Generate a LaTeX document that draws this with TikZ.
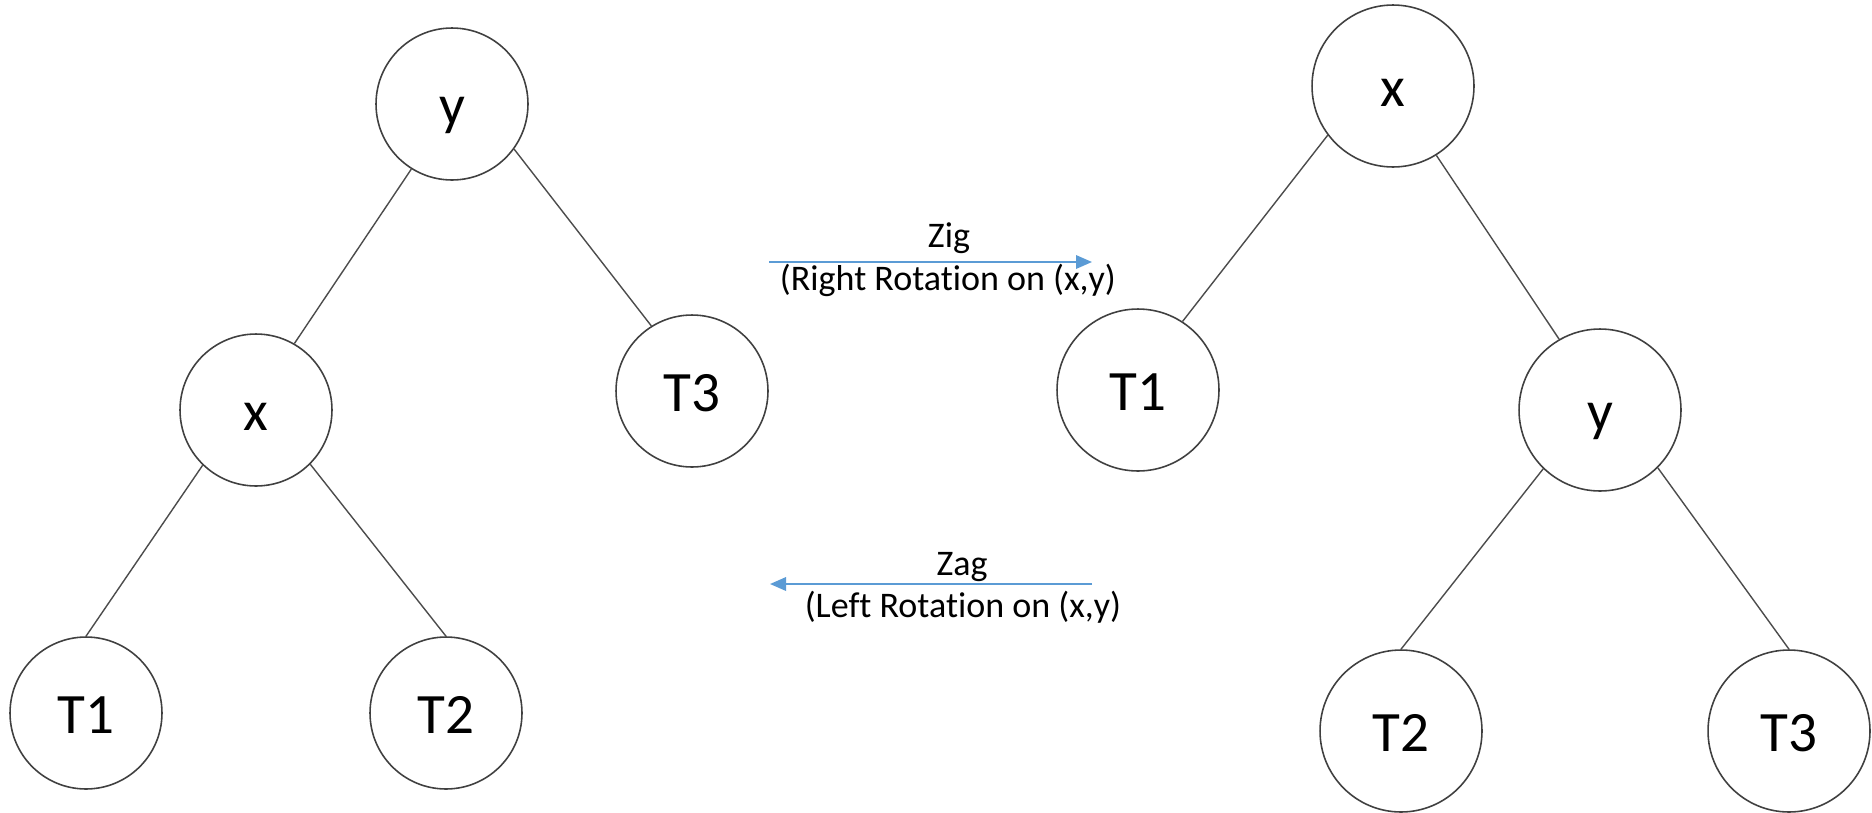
\documentclass[tikz,border=0pt]{standalone}
\usepackage{fontspec}
\setmainfont{Carlito}[Ligatures=NoCommon]
\usetikzlibrary{arrows.meta}
\definecolor{rotblue}{HTML}{5B9BD5}
\tikzset{
  tree/.style={circle,draw=black!75,line width=0.9pt,inner sep=0pt,
    minimum size=3.04cm,text height=23pt,text depth=0pt,
    font=\fontsize{32.5}{38}\selectfont},
  bigtree/.style={tree,minimum size=3.24cm},
  edge/.style={draw=black!70,line width=0.8pt},
  rot/.style={rotblue,line width=1pt,-{Triangle[length=0.32cm,width=0.27cm]}},
  rottext/.style={anchor=base,font=\fontsize{20.5}{24}\selectfont}
}
\begin{document}
\begin{tikzpicture}[x=0.02cm,y=-0.02cm]
  \useasboundingbox (0,0) rectangle (1872,812);

  % before the rotation
  \node[tree] (ly)  at (452,104) {y};
  \node[tree] (lx)  at (256,410) {x};
  \node[tree] (lt3) at (692,391) {T3};
  \node[tree] (lt1) at (86,713)  {T1};
  \node[tree] (lt2) at (446,713) {T2};

  % after the rotation
  \node[bigtree] (rx)  at (1393,86)  {x};
  \node[bigtree] (rt1) at (1138,390) {T1};
  \node[bigtree] (ry)  at (1600,410) {y};
  \node[bigtree] (rt2) at (1401,731) {T2};
  \node[bigtree] (rt3) at (1789,731) {T3};

  \foreach \a/\b in {ly.-122/lx.60, ly.-36/lt3.122, lx.-134/lt1.north, lx.-45/lt2.north,
                     rx.-143/rt1.57, rx.-58/ry.120, ry.-134/rt2.north, ry.-45/rt3.north}
    \draw[edge] (\a) -- (\b);

  \coordinate (zigL) at (769,262);
  \coordinate (zigR) at (1092,262);
  \coordinate (zagL) at (770,584);
  \coordinate (zagR) at (1092,584);
  \draw[rot] (zigL) -- (zigR);
  \draw[rot] (zagR) -- (zagL);

  \node[rottext] (zig)  at (949,247) {Zig};
  \node[rottext] (zigr) at (948,290) {(Right Rotation on (x,y)};
  \node[rottext] (zag)  at (962,575) {Zag};
  \node[rottext] (zagl) at (963,617) {(Left Rotation on (x,y)};
\end{tikzpicture}
\end{document}
